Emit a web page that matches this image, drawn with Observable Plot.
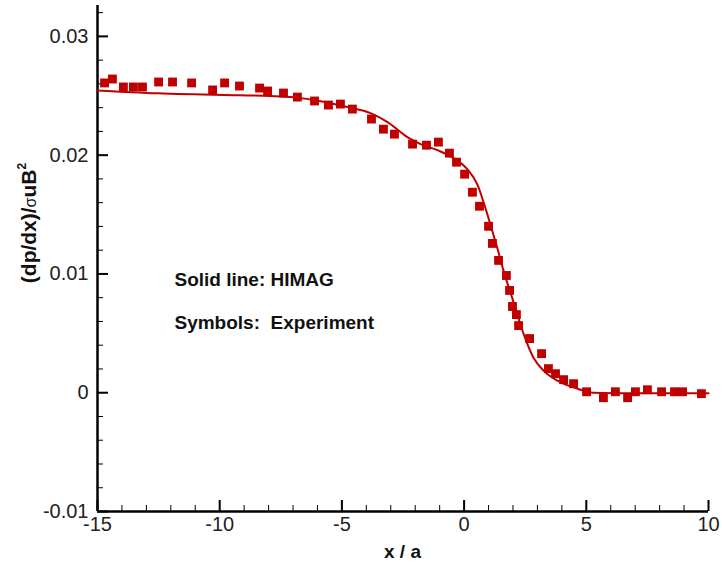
<!DOCTYPE html>
<html>
<head>
<meta charset="utf-8">
<script src="https://cdn.jsdelivr.net/npm/d3@7"></script>
<script src="https://cdn.jsdelivr.net/npm/@observablehq/plot@0.6"></script>
<style>
  html, body { margin: 0; padding: 0; background: #fff; }
  #chart svg { display: block; }
</style>
</head>
<body>
<div id="chart"></div>
<script>
// Experiment (symbols)
const expX = [-14.71, -14.39, -13.94, -13.53, -13.16, -12.50, -11.93, -11.15, -10.29, -9.80, -9.19, -8.37, -8.04, -7.39, -6.82, -6.12, -5.55, -5.06, -4.57, -3.79, -3.30, -2.85, -2.11, -1.54, -1.05, -0.60, -0.31, 0.02, 0.34, 0.63, 1.00, 1.16, 1.41, 1.73, 1.86, 1.98, 2.14, 2.23, 2.68, 3.17, 3.45, 3.74, 4.07, 4.48, 5.01, 5.70, 6.19, 6.69, 7.01, 7.50, 8.08, 8.61, 8.94, 9.71];
const expY = [0.02608, 0.02641, 0.02574, 0.02574, 0.02574, 0.02616, 0.02616, 0.02608, 0.02549, 0.02608, 0.02582, 0.02565, 0.02540, 0.02523, 0.02489, 0.02456, 0.02422, 0.02430, 0.02388, 0.02304, 0.02219, 0.02177, 0.02093, 0.02084, 0.02110, 0.02017, 0.01941, 0.01840, 0.01688, 0.01570, 0.01401, 0.01257, 0.01114, 0.00987, 0.00861, 0.00726, 0.00658, 0.00565, 0.00456, 0.00329, 0.00203, 0.00160, 0.00110, 0.00076, 0.00008, -0.00042, 0.00008, -0.00042, 0.00008, 0.00025, 0.00008, 0.00008, 0.00008, -0.00008];
// HIMAG (solid line)
const simX = [-15, -12.55, -9.84, -8.21, -7.10, -5.75, -4.77, -3.83, -3.13, -2.32, -1.78, -1.09, -0.43, 0.14, 0.55, 0.85, 1.10, 1.37, 1.61, 1.98, 2.43, 2.84, 3.25, 3.82, 4.64, 5.29, 6.93, 10];
const simY = [0.02545, 0.02521, 0.02506, 0.02500, 0.02489, 0.02450, 0.02405, 0.02354, 0.02278, 0.02152, 0.02093, 0.02042, 0.01975, 0.01880, 0.01750, 0.01570, 0.01400, 0.01210, 0.01030, 0.00790, 0.00498, 0.00295, 0.00186, 0.00101, 0.00034, 0.0, -0.00005, -0.00005];
// Ticks
const xMajor = [-15, -10, -5, 0, 5, 10];
const xMinor = d3.range(-14, 10, 1).filter(v => v % 5 !== 0);
const yMajor = [-0.01, 0, 0.01, 0.02, 0.03];
const yMinor = [-0.008, -0.006, -0.004, -0.002, 0.002, 0.004, 0.006, 0.008, 0.012, 0.014, 0.016, 0.018, 0.022, 0.024, 0.026, 0.028, 0.032];
const annotations = ["Solid line: HIMAG", "Symbols:  Experiment"];

const W = 722, H = 566;
const mL = 97, mR = 14, mT = 5, mB = 55;
const fw = W - mL - mR, fh = H - mT - mB;
const red = "#c00000";
const font = "Arial, 'Liberation Sans', sans-serif";

const expData = expX.map((x, i) => ({x, y: expY[i]}));
const simData = simX.map((x, i) => ({x, y: simY[i]}));

const chart = Plot.plot({
  width: W, height: H,
  marginLeft: mL, marginRight: mR, marginTop: mT, marginBottom: mB,
  style: {fontFamily: font, background: "#fff"},
  x: {domain: [-15, 10]},
  y: {domain: [-0.01, 0.0326]},
  marks: [
    Plot.axisX({ticks: xMajor, tickSize: 0, tickPadding: 5, tickFormat: d => String(d), fontSize: 20, fill: "#222", label: null}),
    Plot.axisY({ticks: yMajor, tickSize: 0, tickPadding: 9, tickFormat: d => String(d), fontSize: 20, fill: "#222", label: null}),
    Plot.tickX(xMajor, {x: d => d, insetTop: fh - 11, stroke: "#000", strokeWidth: 2}),
    Plot.tickX(xMinor, {x: d => d, insetTop: fh - 6, stroke: "#000", strokeWidth: 1}),
    Plot.tickY(yMajor, {y: d => d, insetRight: fw - 11, stroke: "#000", strokeWidth: 2}),
    Plot.tickY(yMinor, {y: d => d, insetRight: fw - 6, stroke: "#000", strokeWidth: 1}),
    Plot.ruleX([-15], {stroke: "#000", strokeWidth: 2.5}),
    Plot.ruleY([-0.01], {stroke: "#000", strokeWidth: 2.5}),
    Plot.line(simData, {x: "x", y: "y", curve: "monotone-x", stroke: red, strokeWidth: 2}),
    Plot.dot(expData, {x: "x", y: "y", symbol: "square", r: 5, fill: red, stroke: "none"}),
    Plot.text(annotations, {x: -11.85, y: [0.0095, 0.0059], text: d => d, textAnchor: "start", fontSize: 19, fontWeight: "bold", fill: "#111"})
  ]
});

const svg = d3.select(chart);
// x-axis label
svg.append("text")
  .attr("x", mL + fw / 2).attr("y", 558)
  .attr("text-anchor", "middle")
  .attr("font-family", font)
  .attr("font-size", 19).attr("font-weight", "bold").attr("fill", "#111")
  .text("x / a");
// y-axis label
const yl = svg.append("text")
  .attr("transform", `translate(36, 223) rotate(-90)`)
  .attr("text-anchor", "middle")
  .attr("font-family", font)
  .attr("font-size", 21).attr("font-weight", "bold").attr("fill", "#111");
yl.append("tspan").text("(dp/dx)/");
yl.append("tspan").attr("font-size", 16).attr("font-weight", "normal").text("σ");
yl.append("tspan").text("uB");
yl.append("tspan").attr("font-size", 12).attr("dy", -10).text("2");

document.getElementById("chart").appendChild(chart);
</script>
</body>
</html>
